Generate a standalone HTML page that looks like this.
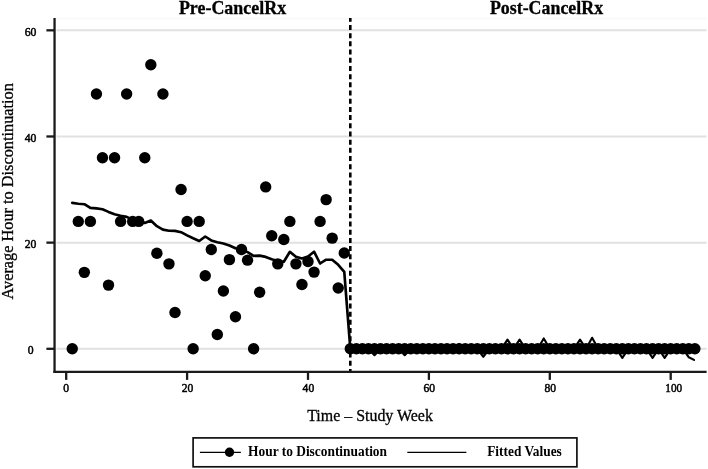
<!DOCTYPE html>
<html><head><meta charset="utf-8"><title>Chart</title>
<style>
html,body{margin:0;padding:0;background:#fff;}
body{width:708px;height:469px;overflow:hidden;font-family:"Liberation Serif",serif;}
svg{display:block;will-change:transform;}
text{font-family:"Liberation Serif",serif;fill:#000;}
.tick text{font-weight:normal;font-size:12.5px;stroke:#000;stroke-width:0.5px;}
.ttl{font-weight:bold;font-size:18.3px;stroke:#000;stroke-width:0.3px;}
.ax{font-size:16px;stroke:#000;stroke-width:0.3px;}
.lg{font-weight:bold;font-size:14.2px;}
</style></head><body>
<svg width="708" height="469" viewBox="0 0 708 469">
<rect width="708" height="469" fill="#fff"/>
<line x1="56" x2="706.5" y1="18.4" y2="18.4" stroke="#f8f8f8" stroke-width="1.5"/>
<g stroke="#e1e1e1" stroke-width="2"><line x1="56.5" x2="706.5" y1="348.80" y2="348.80"/><line x1="56.5" x2="706.5" y1="242.64" y2="242.64"/><line x1="56.5" x2="706.5" y1="136.48" y2="136.48"/><line x1="56.5" x2="706.5" y1="30.32" y2="30.32"/></g>
<g fill="#000"><circle cx="72.25" cy="348.80" r="5.7"/><circle cx="78.29" cy="221.41" r="5.7"/><circle cx="84.34" cy="272.36" r="5.7"/><circle cx="90.38" cy="221.41" r="5.7"/><circle cx="96.43" cy="94.02" r="5.7"/><circle cx="102.47" cy="157.71" r="5.7"/><circle cx="108.52" cy="285.10" r="5.7"/><circle cx="114.56" cy="157.71" r="5.7"/><circle cx="120.61" cy="221.41" r="5.7"/><circle cx="126.65" cy="94.02" r="5.7"/><circle cx="132.69" cy="221.41" r="5.7"/><circle cx="138.74" cy="221.41" r="5.7"/><circle cx="144.78" cy="157.71" r="5.7"/><circle cx="150.83" cy="64.82" r="5.7"/><circle cx="156.88" cy="253.26" r="5.7"/><circle cx="162.92" cy="94.02" r="5.7"/><circle cx="168.97" cy="263.87" r="5.7"/><circle cx="175.01" cy="312.44" r="5.7"/><circle cx="181.06" cy="189.56" r="5.7"/><circle cx="187.10" cy="221.41" r="5.7"/><circle cx="193.14" cy="348.80" r="5.7"/><circle cx="199.19" cy="221.41" r="5.7"/><circle cx="205.24" cy="275.81" r="5.7"/><circle cx="211.28" cy="249.54" r="5.7"/><circle cx="217.32" cy="334.47" r="5.7"/><circle cx="223.37" cy="290.94" r="5.7"/><circle cx="229.42" cy="259.63" r="5.7"/><circle cx="235.46" cy="316.69" r="5.7"/><circle cx="241.50" cy="249.54" r="5.7"/><circle cx="247.55" cy="260.16" r="5.7"/><circle cx="253.60" cy="348.80" r="5.7"/><circle cx="259.64" cy="292.27" r="5.7"/><circle cx="265.69" cy="186.91" r="5.7"/><circle cx="271.73" cy="235.74" r="5.7"/><circle cx="277.77" cy="263.87" r="5.7"/><circle cx="283.82" cy="239.46" r="5.7"/><circle cx="289.87" cy="221.41" r="5.7"/><circle cx="295.91" cy="263.87" r="5.7"/><circle cx="301.95" cy="284.57" r="5.7"/><circle cx="308.00" cy="261.48" r="5.7"/><circle cx="314.05" cy="272.10" r="5.7"/><circle cx="320.09" cy="221.41" r="5.7"/><circle cx="326.13" cy="199.65" r="5.7"/><circle cx="332.18" cy="238.13" r="5.7"/><circle cx="338.22" cy="288.02" r="5.7"/><circle cx="344.27" cy="252.99" r="5.7"/><circle cx="350.31" cy="348.80" r="5.7"/><circle cx="356.36" cy="348.80" r="5.7"/><circle cx="362.40" cy="348.80" r="5.7"/><circle cx="368.45" cy="348.80" r="5.7"/><circle cx="374.50" cy="348.80" r="5.7"/><circle cx="380.54" cy="348.80" r="5.7"/><circle cx="386.58" cy="348.80" r="5.7"/><circle cx="392.63" cy="348.80" r="5.7"/><circle cx="398.68" cy="348.80" r="5.7"/><circle cx="404.72" cy="348.80" r="5.7"/><circle cx="410.76" cy="348.80" r="5.7"/><circle cx="416.81" cy="348.80" r="5.7"/><circle cx="422.85" cy="348.80" r="5.7"/><circle cx="428.90" cy="348.80" r="5.7"/><circle cx="434.94" cy="348.80" r="5.7"/><circle cx="440.99" cy="348.80" r="5.7"/><circle cx="447.03" cy="348.80" r="5.7"/><circle cx="453.08" cy="348.80" r="5.7"/><circle cx="459.12" cy="348.80" r="5.7"/><circle cx="465.17" cy="348.80" r="5.7"/><circle cx="471.21" cy="348.80" r="5.7"/><circle cx="477.26" cy="348.80" r="5.7"/><circle cx="483.31" cy="348.80" r="5.7"/><circle cx="489.35" cy="348.80" r="5.7"/><circle cx="495.39" cy="348.80" r="5.7"/><circle cx="501.44" cy="348.80" r="5.7"/><circle cx="507.48" cy="348.80" r="5.7"/><circle cx="513.53" cy="348.80" r="5.7"/><circle cx="519.58" cy="348.80" r="5.7"/><circle cx="525.62" cy="348.80" r="5.7"/><circle cx="531.66" cy="348.80" r="5.7"/><circle cx="537.71" cy="348.80" r="5.7"/><circle cx="543.75" cy="348.80" r="5.7"/><circle cx="549.80" cy="348.80" r="5.7"/><circle cx="555.85" cy="348.80" r="5.7"/><circle cx="561.89" cy="348.80" r="5.7"/><circle cx="567.94" cy="348.80" r="5.7"/><circle cx="573.98" cy="348.80" r="5.7"/><circle cx="580.03" cy="348.80" r="5.7"/><circle cx="586.07" cy="348.80" r="5.7"/><circle cx="592.12" cy="348.80" r="5.7"/><circle cx="598.16" cy="348.80" r="5.7"/><circle cx="604.21" cy="348.80" r="5.7"/><circle cx="610.25" cy="348.80" r="5.7"/><circle cx="616.30" cy="348.80" r="5.7"/><circle cx="622.34" cy="348.80" r="5.7"/><circle cx="628.38" cy="348.80" r="5.7"/><circle cx="634.43" cy="348.80" r="5.7"/><circle cx="640.48" cy="348.80" r="5.7"/><circle cx="646.52" cy="348.80" r="5.7"/><circle cx="652.57" cy="348.80" r="5.7"/><circle cx="658.61" cy="348.80" r="5.7"/><circle cx="664.66" cy="348.80" r="5.7"/><circle cx="670.70" cy="348.80" r="5.7"/><circle cx="676.75" cy="348.80" r="5.7"/><circle cx="682.79" cy="348.80" r="5.7"/><circle cx="688.84" cy="348.80" r="5.7"/><circle cx="694.88" cy="348.80" r="5.7"/></g>
<polyline fill="none" stroke="#000" stroke-width="2.65" stroke-linejoin="round" stroke-linecap="round" points="72.25,202.90 78.29,203.70 84.34,204.20 90.38,207.90 96.43,208.40 102.47,209.30 108.52,211.90 114.56,214.30 120.61,215.70 126.65,216.90 132.69,219.70 138.74,221.70 144.78,222.90 150.83,220.50 156.88,226.20 162.92,229.60 168.97,230.80 175.01,230.90 181.06,232.20 187.10,235.40 193.14,238.30 199.19,241.00 205.24,236.50 211.28,240.40 217.32,242.20 223.37,243.50 229.42,245.50 235.46,248.30 241.50,249.50 247.55,252.10 253.60,255.90 259.64,255.60 265.69,256.90 271.73,259.20 277.77,261.00 283.82,261.70 289.87,251.80 295.91,256.80 301.95,258.50 308.00,256.50 314.05,251.70 320.09,263.50 326.13,259.70 332.18,259.70 338.22,264.80 344.27,271.90 350.31,348.80"/>
<polyline fill="none" stroke="#000" stroke-width="2.15" stroke-linejoin="round" stroke-linecap="round" points="350.31,348.80 356.36,348.80 362.40,348.80 368.45,348.80 374.50,355.17 380.54,348.80 386.58,348.80 392.63,348.80 398.68,348.80 404.72,355.17 410.76,348.80 416.81,348.80 422.85,348.80 428.90,348.80 434.94,348.80 440.99,348.80 447.03,348.80 453.08,348.80 459.12,344.02 465.17,348.80 471.21,348.80 477.26,348.80 483.31,356.76 489.35,348.80 495.39,348.80 501.44,348.80 507.48,339.67 513.53,348.80 519.58,339.67 525.62,348.80 531.66,348.80 537.71,348.80 543.75,338.45 549.80,348.80 555.85,348.80 561.89,348.80 567.94,348.80 573.98,348.80 580.03,339.67 586.07,348.80 592.12,337.81 598.16,348.80 604.21,348.80 610.25,348.80 616.30,348.80 622.34,357.82 628.38,348.80 634.43,348.80 640.48,348.80 646.52,348.80 652.57,357.82 658.61,348.80 664.66,357.82 670.70,348.80 676.75,348.80 682.79,348.80 688.84,357.29 694.00,359.90"/>
<line x1="350.3" x2="350.3" y1="18" y2="372" stroke="#000" stroke-width="2.6" stroke-dasharray="5 3.19" stroke-dashoffset="1.2"/>
<g stroke="#1a1a1a" stroke-width="2.3">
<line x1="54.55" x2="54.55" y1="18.1" y2="373"/>
<line x1="53.4" x2="706.6" y1="371.95" y2="371.95"/>
<line x1="46.4" x2="54.6" y1="348.80" y2="348.80"/><line x1="46.4" x2="54.6" y1="242.64" y2="242.64"/><line x1="46.4" x2="54.6" y1="136.48" y2="136.48"/><line x1="46.4" x2="54.6" y1="30.32" y2="30.32"/><line x1="66.20" x2="66.20" y1="371.95" y2="379.9"/><line x1="187.10" x2="187.10" y1="371.95" y2="379.9"/><line x1="308.00" x2="308.00" y1="371.95" y2="379.9"/><line x1="428.90" x2="428.90" y1="371.95" y2="379.9"/><line x1="549.80" x2="549.80" y1="371.95" y2="379.9"/><line x1="670.70" x2="670.70" y1="371.95" y2="379.9"/>
</g>
<g class="tick"><text x="27.68" y="354.00" textLength="5.85" lengthAdjust="spacingAndGlyphs">0</text><text x="24.75" y="247.84" textLength="11.70" lengthAdjust="spacingAndGlyphs">20</text><text x="24.75" y="141.68" textLength="11.70" lengthAdjust="spacingAndGlyphs">40</text><text x="24.75" y="35.52" textLength="11.70" lengthAdjust="spacingAndGlyphs">60</text><text x="63.30" y="392.35" textLength="5.80" lengthAdjust="spacingAndGlyphs">0</text><text x="181.70" y="392.35" textLength="11.60" lengthAdjust="spacingAndGlyphs">20</text><text x="302.60" y="392.35" textLength="11.60" lengthAdjust="spacingAndGlyphs">40</text><text x="423.50" y="392.35" textLength="11.60" lengthAdjust="spacingAndGlyphs">60</text><text x="544.40" y="392.35" textLength="11.60" lengthAdjust="spacingAndGlyphs">80</text><text x="665.37" y="392.35" textLength="16.86" lengthAdjust="spacingAndGlyphs">100</text></g>
<text class="ttl" x="178.9" y="13.5" textLength="107.2" lengthAdjust="spacingAndGlyphs">Pre-CancelRx</text>
<text class="ttl" x="489.9" y="13.5" textLength="113.2" lengthAdjust="spacingAndGlyphs">Post-CancelRx</text>
<text class="ax" style="font-size:16.4px" x="307.2" y="420.8" textLength="125.7" lengthAdjust="spacingAndGlyphs">Time – Study Week</text>
<text class="ax" style="font-size:16.3px" transform="translate(13.3 299.5) rotate(-90)" textLength="216.4" lengthAdjust="spacingAndGlyphs">Average Hour to Discontinuation</text>
<rect x="193.1" y="437.9" width="383.8" height="28.9" fill="#fff" stroke="#111" stroke-width="1.7"/>
<line x1="199.9" x2="240.9" y1="452.3" y2="452.3" stroke="#000" stroke-width="1.3"/>
<circle cx="229.5" cy="452.3" r="4.7" fill="#000"/>
<text class="lg" x="248.1" y="455.5" textLength="138.9" lengthAdjust="spacingAndGlyphs">Hour to Discontinuation</text>
<line x1="407.3" x2="466.4" y1="452.3" y2="452.3" stroke="#000" stroke-width="1.3"/>
<text class="lg" x="487.2" y="455.5" textLength="74.6" lengthAdjust="spacingAndGlyphs">Fitted Values</text>
</svg>
</body></html>
